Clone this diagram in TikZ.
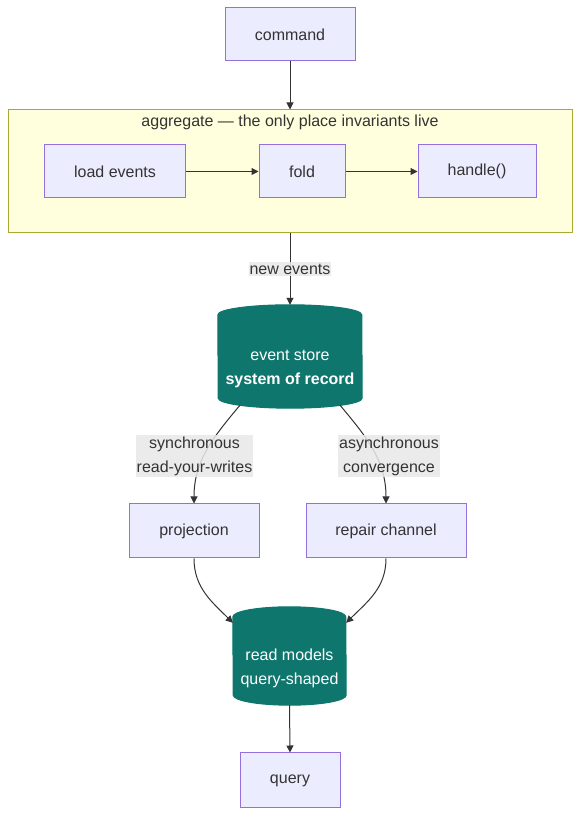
\documentclass[tikz,border=0pt]{standalone}
\usepackage{fontspec}
\setmainfont{Liberation Sans}
\usetikzlibrary{arrows.meta}
\definecolor{nodefill}{HTML}{ECECFF}
\definecolor{nodeline}{HTML}{9370DB}
\definecolor{clusterfill}{HTML}{FFFFDE}
\definecolor{clusterline}{HTML}{AAAA33}
\definecolor{storefill}{HTML}{0F766E}
\definecolor{edgecol}{HTML}{333333}
\definecolor{lblfill}{HTML}{E8E8E8}
\definecolor{txt}{HTML}{333333}
\pgfdeclarelayer{bg}
\pgfsetlayers{bg,main}
\begin{document}
\begin{tikzpicture}[x=1pt,y=1pt,
  basefont/.style={font=\fontsize{16}{24}\selectfont},
  box/.style={basefont, draw=nodeline, fill=nodefill, line width=1pt, minimum width=#1, minimum height=53pt, inner sep=0pt, text=txt},
  cluster/.style={draw=clusterline, fill=clusterfill, line width=1pt, minimum width=564pt, minimum height=123pt, inner sep=0pt},
  store/.style={basefont, rectangle, inner sep=0pt, text=white, align=center},
  storebody/.style={fill=storefill, draw=storefill, line width=1pt},
  edge/.style={draw=edgecol, line width=1pt, -{Triangle[length=7pt,width=7pt]}},
  elabel/.style={basefont, fill=lblfill, fill opacity=0.85, text opacity=1, text=txt, inner xsep=1pt, inner ysep=1.5pt, align=center}
]
\useasboundingbox (0,0) rectangle (588,826);

% nodes
\node[box=130pt] (cmd) at (290,791.5) {command};
\node[cluster] (agg) at (290,654.5) {};
\node[basefont, text=txt, inner sep=0pt] (aggtitle) at (290,704) {aggregate — the only place invariants live};
\node[box=141pt] (load) at (115,654.5) {load events};
\node[box=86pt] (fold) at (302,654.5) {fold};
\node[box=118pt] (handle) at (477,654.5) {handle()};

% store nodes: extended 24pt downward so the text sits below the top cap
\node[store, minimum width=144pt, minimum height=127pt] (es) at (290,457.5) {event store\\\textbf{system of record}};
\node[box=130pt, minimum height=54pt] (proj) at (194,295) {projection};
\node[box=160pt, minimum height=54pt] (repair) at (386,295) {repair channel};
\node[store, minimum width=113pt, minimum height=122pt] (rm) at (289.5,158) {read models\\query-shaped};
\node[box=100pt, minimum height=55pt] (query) at (290,45.5) {query};

% cylinder bodies
\begin{pgfonlayer}{bg}
\path[storebody] ([yshift=-10pt]es.north west) arc[start angle=180,end angle=0,x radius=72pt,y radius=10pt]
  -- ([yshift=34pt]es.south east) arc[start angle=0,end angle=-180,x radius=72pt,y radius=10pt] -- cycle;
\path[storebody] ([yshift=-10pt]rm.north west) arc[start angle=180,end angle=0,x radius=56.5pt,y radius=10pt]
  -- ([yshift=34pt]rm.south east) arc[start angle=0,end angle=-180,x radius=56.5pt,y radius=10pt] -- cycle;
\end{pgfonlayer}

% anchor points on cylinders
\coordinate (esl) at ([xshift=-50pt,yshift=27pt]es.south);
\coordinate (esr) at ([xshift=50pt,yshift=27pt]es.south);
\coordinate (rml) at ([yshift=-16pt]rm.north west);
\coordinate (rmr) at ([yshift=-16pt]rm.north east);
\coordinate (rmb) at ([yshift=24pt]rm.south);

% edges
\draw[edge] (cmd.south) -- (agg.north);
\draw[edge] (load.east) -- (fold.west);
\draw[edge] (fold.east) -- (handle.west);
\draw[edge] (agg.south) -- (es.north);
\draw[edge] (esl) to[out=-130,in=90] (proj.north);
\draw[edge] (esr) to[out=-50,in=90] (repair.north);
\draw[edge] (proj.south) to[out=-90,in=135] (rml);
\draw[edge] (repair.south) to[out=-90,in=45] (rmr);
\draw[edge] (rmb) -- (query.north);

% edge labels
\node[elabel] (lnew) at (290,557) {new events};
\node[elabel] (lsync) at (194.5,370) {synchronous\\read-your-writes};
\node[elabel] (lasync) at (389,370) {asynchronous\\convergence};
\end{tikzpicture}
\end{document}
